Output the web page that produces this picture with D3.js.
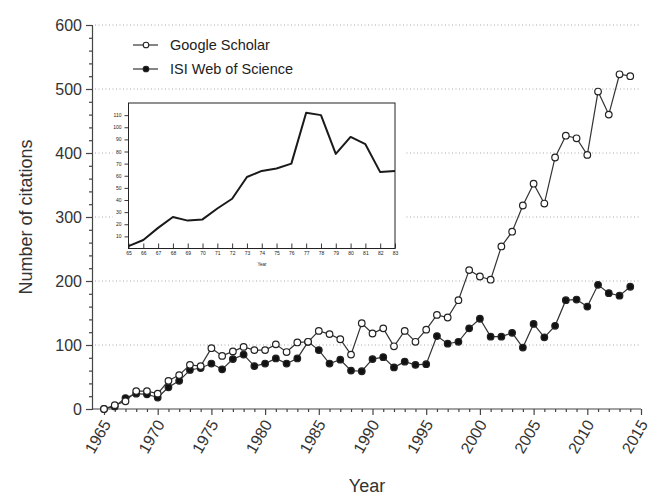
<!DOCTYPE html>
<html>
<head>
    <meta charset="utf-8">
    <title>Citations per year</title>
    <style type="text/css">
        body { margin: 0; background: #fff; }
        svg { display: block; font-family: "Liberation Sans", Arial, sans-serif; }
        .grid line { stroke: #aaa; stroke-dasharray: 1 2.5; stroke-width: 1; }
        .axis path, .axis line { stroke: #444; stroke-width: 1.2; fill: none; }
        .axis text { fill: #333; font-size: 16px; }
        .inset .axis path, .inset .axis line { stroke: #222; stroke-width: 0.9; }
        .inset .axis text { fill: #222; font-size: 5px; }
    </style>
</head>
<body>
<script src="https://cdn.jsdelivr.net/npm/d3@7"></script>
<script type="text/javascript">
    // 主图数据
    var years = d3.range(1965, 2015);
    var scholar = [0, 6, 12, 28, 28, 24, 44, 53, 69, 67,
        95, 83, 90, 97, 92, 92, 101, 89, 104, 105,
        122, 117, 109, 85, 134, 118, 126, 98, 122, 105,
        124, 147, 143, 170, 217, 207, 202, 254, 277, 318,
        352, 321, 393, 427, 423, 397, 496, 460, 523, 520];
    var isi = [0, 4, 17, 24, 23, 18, 34, 44, 61, 64,
        71, 62, 78, 85, 67, 71, 79, 71, 79, 105,
        92, 71, 77, 60, 59, 78, 81, 65, 74, 69,
        70, 114, 102, 105, 126, 141, 113, 113, 119, 96,
        133, 112, 130, 170, 171, 160, 194, 181, 177, 191];
    var yTicks = [0, 100, 200, 300, 400, 500, 600];
    var xTicks = d3.range(1965, 2016, 5);

    // 小图数据
    var insetYears = d3.range(65, 84);
    var insetValues = [2, 7, 17, 26, 23, 24, 33, 41, 59, 64, 66, 70, 112, 110, 78, 92, 86, 63, 64];
    var insetYTicks = d3.range(10, 120, 10);

    var svg = d3.select("body")
        .append("svg")
        .attr("width", 666)
        .attr("height", 504);

    var x = d3.scaleLinear().domain([1965, 2015]).range([104, 641]);
    var y = d3.scaleLinear().domain([0, 600]).range([409, 25]);

    //网格线
    svg.append("g").attr("class", "grid")
        .selectAll("line")
        .data(yTicks.slice(1))
        .enter().append("line")
        .attr("x1", 95).attr("x2", 641)
        .attr("y1", function (d) { return y(d); })
        .attr("y2", function (d) { return y(d); });

    //y轴
    var yAxis = svg.append("g").attr("class", "axis")
        .attr("transform", "translate(92,0)");
    yAxis.call(d3.axisLeft(y).tickValues(d3.range(0, 601, 20)).tickSize(3).tickFormat(""));
    yAxis.selectAll(".tick").filter(function (d) { return d % 100 === 0; })
        .select("line").attr("x2", -6);
    yAxis.selectAll(".tick").filter(function (d) { return d % 100 === 0; })
        .append("text")
        .attr("x", -10).attr("dy", "0.35em")
        .attr("text-anchor", "end")
        .text(function (d) { return d; });

    //x轴
    var xAxis = svg.append("g").attr("class", "axis")
        .attr("transform", "translate(0,409)");
    xAxis.call(d3.axisBottom(x).tickValues(years.concat([2015])).tickSize(3).tickSizeOuter(0).tickFormat(""));
    xAxis.select(".domain").attr("d", "M92,0H641");
    xAxis.selectAll(".tick").filter(function (d) { return xTicks.indexOf(d) >= 0; })
        .select("line").attr("y2", 6);
    xAxis.selectAll(".tick").filter(function (d) { return xTicks.indexOf(d) >= 0; })
        .append("text")
        .attr("text-anchor", "end")
        .attr("transform", "translate(7,15) rotate(-60)")
        .text(function (d) { return d; });

    //坐标轴标题
    svg.append("text")
        .attr("transform", "translate(32,217) rotate(-90)")
        .attr("text-anchor", "middle")
        .attr("font-size", 18)
        .attr("fill", "#333")
        .text("Number of citations");
    svg.append("text")
        .attr("x", 367).attr("y", 492)
        .attr("text-anchor", "middle")
        .attr("font-size", 18)
        .attr("fill", "#333")
        .text("Year");

    //小图
    var inset = svg.append("g").attr("class", "inset");
    inset.append("rect")
        .attr("x", 113).attr("y", 96).attr("width", 292).attr("height", 175)
        .attr("fill", "#fff");
    var ix = d3.scaleLinear().domain([65, 83]).range([128.5, 395]);
    var iy = d3.scaleLinear().domain([0, 120]).range([248.5, 103]);
    inset.append("rect")
        .attr("x", 128.5).attr("y", 103).attr("width", 266.5).attr("height", 145.5)
        .attr("fill", "none").attr("stroke", "#222").attr("stroke-width", 1);
    inset.append("g").attr("class", "axis")
        .attr("transform", "translate(128.5,0)")
        .call(d3.axisLeft(iy).tickValues(insetYTicks).tickSize(4).tickPadding(3))
        .select(".domain").remove();
    inset.append("g").attr("class", "axis")
        .attr("transform", "translate(0,248.5)")
        .call(d3.axisBottom(ix).tickValues(insetYears).tickSize(-5).tickPadding(2))
        .call(function (g) {
            g.select(".domain").remove();
            g.selectAll("text").attr("y", 3);
        });
    inset.append("path")
        .datum(insetValues)
        .attr("fill", "none")
        .attr("stroke", "#1a1a1a")
        .attr("stroke-width", 2)
        .attr("stroke-linejoin", "round")
        .attr("d", d3.line()
            .x(function (d, i) { return ix(insetYears[i]); })
            .y(function (d) { return iy(d); }));
    inset.append("text")
        .attr("x", 262).attr("y", 266)
        .attr("text-anchor", "middle")
        .attr("font-size", 4.5)
        .attr("fill", "#222")
        .text("Year");

    //折线和点
    var line = d3.line()
        .x(function (d, i) { return x(years[i]); })
        .y(function (d) { return y(d); });

    function drawSeries(values, filled) {
        svg.append("path")
            .datum(values)
            .attr("fill", "none")
            .attr("stroke", "#333")
            .attr("stroke-width", 1.2)
            .attr("d", line);
        svg.append("g").selectAll("circle")
            .data(values)
            .enter().append("circle")
            .attr("cx", function (d, i) { return x(years[i]); })
            .attr("cy", function (d) { return y(d); })
            .attr("r", 3.3)
            .attr("fill", filled ? "#111" : "#fff")
            .attr("stroke", "#222")
            .attr("stroke-width", 1.2);
    }
    drawSeries(isi, true);
    drawSeries(scholar, false);

    //图例
    var legend = svg.append("g").attr("font-size", 14.5).attr("fill", "#222");
    var legendItems = [["Google Scholar", false], ["ISI Web of Science", true]];
    legendItems.forEach(function (item, i) {
        var ly = 45 + i * 24;
        legend.append("line")
            .attr("x1", 133).attr("x2", 158)
            .attr("y1", ly).attr("y2", ly)
            .attr("stroke", "#333").attr("stroke-width", 1.2);
        legend.append("circle")
            .attr("cx", 146).attr("cy", ly).attr("r", 2.8)
            .attr("fill", item[1] ? "#111" : "#fff")
            .attr("stroke", "#222").attr("stroke-width", 1.1);
        legend.append("text")
            .attr("x", 170).attr("y", ly).attr("dy", "0.35em")
            .text(item[0]);
    });
</script>
</body>
</html>
